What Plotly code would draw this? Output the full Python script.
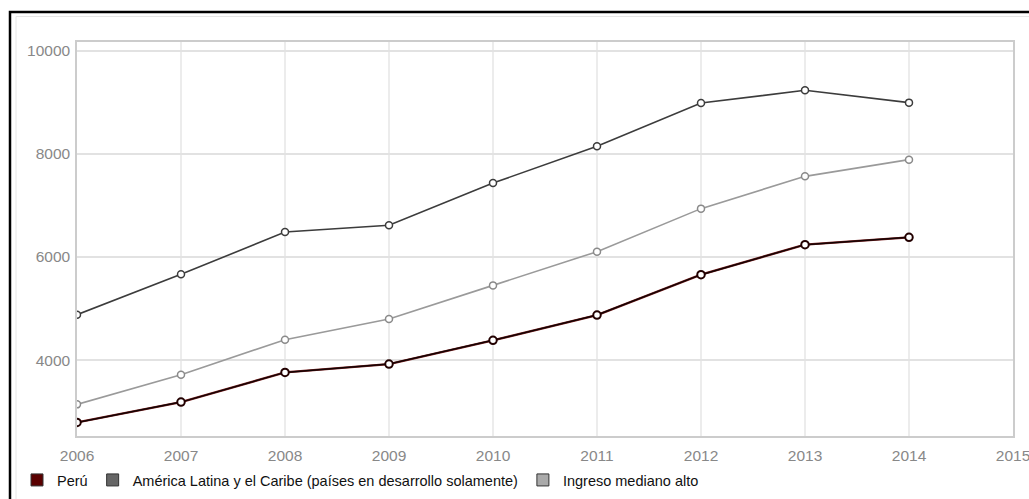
import plotly.graph_objects as go

# GDP per capita series, 2006-2014
years = [2006, 2007, 2008, 2009, 2010, 2011, 2012, 2013, 2014]
peru = [2790, 3184, 3761, 3922, 4383, 4874, 5658, 6241, 6383]
america_latina = [4882, 5664, 6485, 6616, 7437, 8150, 8990, 9237, 8998]
ingreso_mediano_alto = [3140, 3717, 4396, 4796, 5450, 6105, 6940, 7567, 7891]

series_names = [
    "Perú",
    "América Latina y el Caribe (países en desarrollo solamente)",
    "Ingreso mediano alto",
]
swatch_colors = ["#5a0000", "#666666", "#aaaaaa"]

x_ticks = [2006, 2007, 2008, 2009, 2010, 2011, 2012, 2013, 2014, 2015]
y_ticks = [4000, 6000, 8000, 10000]

W, H = 1029, 499
ML, MR, MT, MB = 77, 16, 42, 63
PW, PH = W - ML - MR, H - MT - MB

fig = go.Figure()

marker_common = dict(symbol="circle", size=7, color="white")

fig.add_trace(go.Scatter(
    x=years, y=america_latina, mode="lines+markers", showlegend=False,
    line=dict(color="#3c3c3c", width=1.6),
    marker=dict(**marker_common, line=dict(color="#3c3c3c", width=1.5)),
))
fig.add_trace(go.Scatter(
    x=years, y=ingreso_mediano_alto, mode="lines+markers", showlegend=False,
    line=dict(color="#9a9a9a", width=1.6),
    marker=dict(**marker_common, line=dict(color="#8a8a8a", width=1.5)),
))
# Perú: dark red underlay with a near-black line on top
fig.add_trace(go.Scatter(
    x=years, y=peru, mode="lines", showlegend=False, hoverinfo="skip",
    line=dict(color="#7a2020", width=2.4),
))
fig.add_trace(go.Scatter(
    x=years, y=peru, mode="lines+markers", showlegend=False,
    line=dict(color="#140303", width=1.5),
    marker=dict(symbol="circle", size=7.5, color="white",
                line=dict(color="#220000", width=2)),
))

# legend swatches
for name, col in zip(series_names, swatch_colors):
    fig.add_trace(go.Scatter(
        x=[None], y=[None], mode="markers", name=name,
        marker=dict(symbol="square", size=12, color=col,
                    line=dict(color="#333333", width=1)),
    ))

def px_x(p):
    return (p - ML) / PW

def px_y(p):
    return (H - MB - p) / PH

shapes = [
    # outer black frame
    dict(type="rect", xref="paper", yref="paper",
         x0=px_x(10), x1=px_x(1040), y0=px_y(520), y1=px_y(12),
         line=dict(color="black", width=2.5), layer="below"),
    # inner light panel border
    dict(type="rect", xref="paper", yref="paper",
         x0=px_x(16), x1=px_x(1040), y0=px_y(520), y1=px_y(16.5),
         line=dict(color="#e6e6e6", width=1), layer="below"),
]

fig.update_layout(
    width=W, height=H,
    margin=dict(l=ML, r=MR, t=MT, b=MB, pad=0, autoexpand=False),
    paper_bgcolor="white", plot_bgcolor="white",
    font=dict(family="Liberation Sans, Arial, sans-serif", size=15.5, color="#888888"),
    shapes=shapes,
    showlegend=True,
    legend=dict(
        orientation="h", x=px_x(17), y=px_y(480), xanchor="left", yanchor="middle",
        font=dict(size=14.5, color="#111111"), bgcolor="rgba(0,0,0,0)",
        itemclick=False, tracegroupgap=0,
    ),
    xaxis=dict(
        range=[2006, 2015], tickvals=x_ticks, ticktext=[str(t) for t in x_ticks],
        showgrid=True, gridcolor="#ececec", gridwidth=1.5,
        showline=True, linecolor="#cccccc", linewidth=1.5, mirror=True,
        zeroline=False, ticks="outside", ticklen=5, tickcolor="rgba(0,0,0,0)",
        ticklabeloverflow="allow", fixedrange=True, automargin=False,
    ),
    yaxis=dict(
        range=[2526, 10175], tickvals=y_ticks, ticktext=[str(t) for t in y_ticks],
        showgrid=True, gridcolor="#e2e2e2", gridwidth=1.5,
        showline=True, linecolor="#cccccc", linewidth=1.5, mirror=True,
        zeroline=False, ticks="", ticklabelstandoff=2, fixedrange=True,
        ticklabeloverflow="allow", automargin=False,
    ),
)

fig.write_html("out.html")
